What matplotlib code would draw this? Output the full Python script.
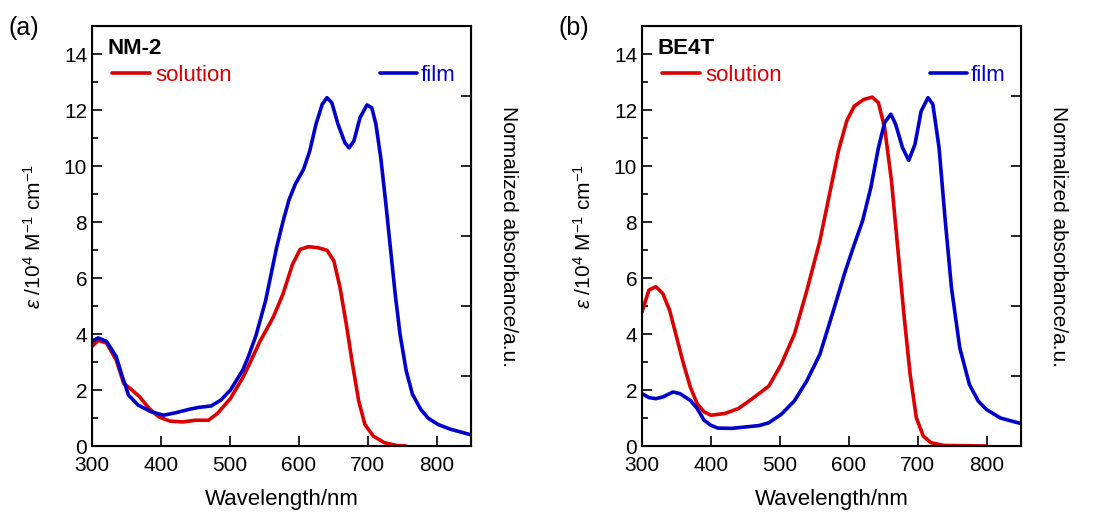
import matplotlib
matplotlib.use("Agg")
import matplotlib.pyplot as plt
from matplotlib.ticker import MultipleLocator

plt.rcParams['font.family'] = ['Liberation Sans', 'DejaVu Sans']
plt.rcParams['mathtext.fontset'] = 'custom'
plt.rcParams['mathtext.it'] = 'Liberation Sans:italic'
plt.rcParams['mathtext.rm'] = 'Liberation Sans'

RED = '#dd0000'
BLUE = '#0000cc'

# NM-2, panel (a)
nm2_film_wl = [300, 309, 321, 335, 344, 353, 367, 386, 404, 422, 441, 455, 473, 487,
               501, 519, 527, 538, 552, 568, 577, 586, 595, 607, 616, 625, 634, 641,
               648, 657, 667, 673, 680, 689, 699, 706, 712, 719, 726, 733, 740, 747,
               756, 765, 777, 788, 802, 820, 850]
nm2_film = [3.74, 3.86, 3.74, 3.2, 2.48, 1.82, 1.46, 1.22, 1.10, 1.19, 1.31, 1.38, 1.43, 1.64,
            2.0, 2.72, 3.2, 3.95, 5.2, 7.1, 8.0, 8.8, 9.35, 9.88, 10.54, 11.49, 12.2, 12.44,
            12.26, 11.49, 10.83, 10.65, 10.89, 11.73, 12.18, 12.08, 11.49, 10.3, 8.75, 7.08, 5.42, 3.99,
            2.68, 1.85, 1.31, 0.99, 0.77, 0.6, 0.4]

nm2_sol_wl = [300, 309, 321, 335, 346, 358, 369, 383, 397, 413, 432, 450, 469, 482,
              501, 519, 527, 543, 563, 577, 591, 602, 614, 628, 641, 651, 660, 669,
              678, 687, 696, 708, 724, 742, 756]
nm2_sol = [3.56, 3.77, 3.68, 3.08, 2.24, 2.0, 1.76, 1.34, 1.04, 0.89, 0.86, 0.92, 0.92, 1.16,
           1.7, 2.45, 2.85, 3.7, 4.6, 5.42, 6.49, 7.02, 7.12, 7.08, 6.99, 6.61, 5.65, 4.35,
           2.92, 1.61, 0.77, 0.36, 0.12, 0.02, 0.0]

# BE4T, panel (b)
be4t_film_wl = [300, 310, 320, 330, 345, 355, 370, 380, 390, 400, 410, 430, 450, 470,
                484, 502, 521, 539, 558, 576, 595, 608, 620, 632, 643, 652, 661, 668,
                678, 687, 696, 705, 715, 722, 731, 740, 749, 761, 775, 788, 800, 820, 850]
be4t_film = [1.87, 1.73, 1.69, 1.75, 1.93, 1.87, 1.63, 1.34, 0.92, 0.74, 0.64, 0.63, 0.68, 0.73,
             0.83, 1.13, 1.61, 2.32, 3.27, 4.7, 6.25, 7.2, 8.04, 9.23, 10.65, 11.55, 11.85, 11.49,
             10.65, 10.2, 10.77, 11.96, 12.44, 12.2, 10.65, 8.04, 5.65, 3.51, 2.2, 1.6, 1.3, 1.0, 0.8]

be4t_sol_wl = [300, 310, 320, 330, 340, 350, 360, 370, 380, 390, 400, 420, 440, 460,
               484, 502, 521, 539, 558, 572, 585, 597, 608, 622, 634, 643, 652, 662,
               671, 680, 689, 698, 708, 719, 738, 800]
be4t_sol = [4.79, 5.57, 5.69, 5.45, 4.85, 3.9, 2.95, 2.11, 1.51, 1.22, 1.10, 1.16, 1.34, 1.69,
            2.14, 2.92, 3.99, 5.54, 7.32, 8.99, 10.54, 11.61, 12.14, 12.38, 12.46, 12.26, 11.37, 9.46,
            7.08, 4.7, 2.56, 1.01, 0.36, 0.12, 0.02, 0.0]

panels = [
    ('(a)', 'NM-2', nm2_sol_wl, nm2_sol, nm2_film_wl, nm2_film),
    ('(b)', 'BE4T', be4t_sol_wl, be4t_sol, be4t_film_wl, be4t_film),
]

fig = plt.figure(figsize=(10.99, 5.12), dpi=100)
lefts = [0.0837, 0.5842]

for left, (tag, name, swl, sol, fwl, film) in zip(lefts, panels):
    ax = fig.add_axes([left, 0.1289, 0.3449, 0.8203])
    l1, = ax.plot(swl, sol, color=RED, lw=2.6, label='solution',
                  solid_capstyle='round', solid_joinstyle='round')
    l2, = ax.plot(fwl, film, color=BLUE, lw=2.6, label='film',
                  solid_capstyle='round', solid_joinstyle='round')

    ax.set_xlim(300, 850)
    ax.set_ylim(0, 15)
    ax.xaxis.set_major_locator(MultipleLocator(100))
    ax.yaxis.set_minor_locator(MultipleLocator(1))
    ax.set_yticks([0, 2, 4, 6, 8, 10, 12, 14])
    ax.tick_params(axis='both', which='both', direction='in', labelsize=15, width=1.2)
    ax.tick_params(which='major', length=7)
    ax.tick_params(which='minor', length=4)
    ax.tick_params(axis='y', which='both', right=False)
    ax.tick_params(axis='x', pad=7)
    for sp in ax.spines.values():
        sp.set_linewidth(1.5)

    ax.set_xlabel('Wavelength/nm', fontsize=16, labelpad=10)
    ax.set_ylabel(r'$\it{\varepsilon}$ /10$^{4}$ M$^{-1}$ cm$^{-1}$', fontsize=15, labelpad=14)

    ax2 = ax.twinx()
    ax2.set_ylim(0, 1.2)
    ax2.set_yticks([0.2, 0.4, 0.6, 0.8, 1.0])
    ax2.tick_params(axis='y', direction='in', length=7, width=1.2, labelright=False)
    ax2.set_ylabel('Normalized absorbance/a.u.', fontsize=15, rotation=270, labelpad=34)

    ax.text(0.042, 0.947, name, transform=ax.transAxes, fontsize=16, fontweight='bold',
            ha='left', va='center')
    leg1 = ax.legend(handles=[l1], loc='upper left', bbox_to_anchor=(0.012, 0.945),
                     frameon=False, fontsize=16, handlelength=1.7, handletextpad=0.25,
                     labelcolor=RED, borderaxespad=0.3)
    ax.add_artist(leg1)
    ax.legend(handles=[l2], loc='upper right', bbox_to_anchor=(1.0, 0.945),
              frameon=False, fontsize=16, handlelength=1.7, handletextpad=0.15,
              labelcolor=BLUE, borderaxespad=0.3)

    fig.text(left - 0.076, 0.945, tag, fontsize=18, ha='left', va='center')

fig.savefig('out.png', dpi=100)
